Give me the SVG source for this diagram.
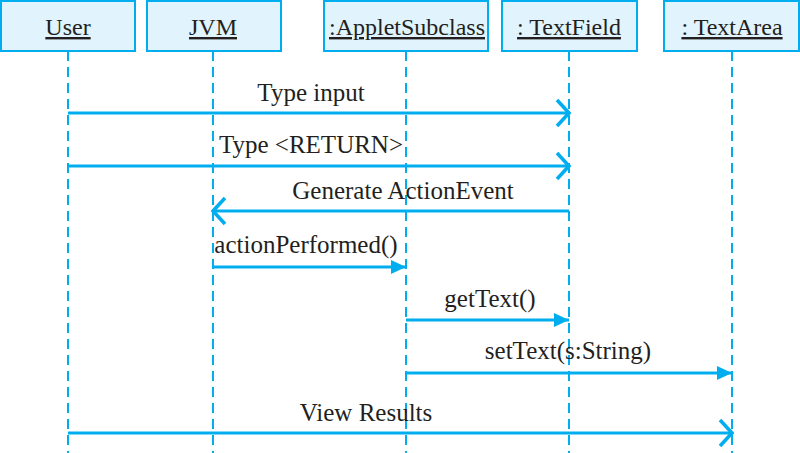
<svg xmlns="http://www.w3.org/2000/svg" width="800" height="453" viewBox="0 0 800 453">
<style>
.box{fill:#E1F3FC;stroke:#00AEEF;stroke-width:2}
.hd{font-family:"Liberation Serif",serif;font-size:24px;fill:#231F20;text-anchor:middle;text-decoration:underline}
.life{stroke:#00AEEF;stroke-width:2;stroke-dasharray:10 6;fill:none}
.msg{stroke:#00AEEF;stroke-width:3;fill:none}
.lbl{font-family:"Liberation Serif",serif;font-size:25px;fill:#231F20;text-anchor:middle}
</style>
<defs>
<marker id="open" viewBox="0 0 20 30" refX="18" refY="15" markerWidth="20" markerHeight="30" markerUnits="userSpaceOnUse" orient="auto">
<path d="M6 2 L18 15 L6 28" fill="none" stroke="#00AEEF" stroke-width="3.5"/>
</marker>
<marker id="fill" viewBox="0 0 16 16" refX="15" refY="8" markerWidth="16" markerHeight="16" markerUnits="userSpaceOnUse" orient="auto">
<path d="M0 1 L15 8 L0 15 Z" fill="#00AEEF"/>
</marker>
</defs>
<g id="lifelines">
<line class="life" x1="68" y1="51" x2="68" y2="453"/>
<line class="life" x1="213" y1="51" x2="213" y2="453"/>
<line class="life" x1="406" y1="51" x2="406" y2="453"/>
<line class="life" x1="569" y1="51" x2="569" y2="453"/>
<line class="life" x1="732" y1="51" x2="732" y2="453"/>
</g>
<g id="user"><rect class="box" x="1" y="1" width="134" height="50"/><text class="hd" x="68" y="35">User</text></g>
<g id="jvm"><rect class="box" x="147" y="1" width="134" height="50"/><text class="hd" x="213" y="35">JVM</text></g>
<g id="applet"><rect class="box" x="324" y="1" width="164" height="50"/><text class="hd" x="407" y="35">:AppletSubclass</text></g>
<g id="textfield"><rect class="box" x="502" y="1" width="135" height="50"/><text class="hd" x="569" y="35">: TextField</text></g>
<g id="textarea"><rect class="box" x="664" y="1" width="135" height="50"/><text class="hd" x="732" y="35">: TextArea</text></g>
<g id="connectors">
<line class="msg" x1="68" y1="113" x2="569" y2="113" marker-end="url(#open)"/>
<line class="msg" x1="68" y1="166" x2="569" y2="166" marker-end="url(#open)"/>
<line class="msg" x1="569" y1="211" x2="213" y2="211" marker-end="url(#open)"/>
<line class="msg" x1="213" y1="267" x2="406" y2="267" marker-end="url(#fill)"/>
<line class="msg" x1="406" y1="320" x2="569" y2="320" marker-end="url(#fill)"/>
<line class="msg" x1="406" y1="373" x2="732" y2="373" marker-end="url(#fill)"/>
<line class="msg" x1="68" y1="433" x2="732" y2="433" marker-end="url(#open)"/>
<text class="lbl" x="311" y="101">Type input</text>
<text class="lbl" x="311" y="153">Type &lt;RETURN&gt;</text>
<text class="lbl" x="403" y="199">Generate ActionEvent</text>
<text class="lbl" x="306" y="253">actionPerformed()</text>
<text class="lbl" x="490" y="307">getText()</text>
<text class="lbl" x="568" y="359">setText(s:String)</text>
<text class="lbl" x="366" y="421">View Results</text>
</g>
</svg>
